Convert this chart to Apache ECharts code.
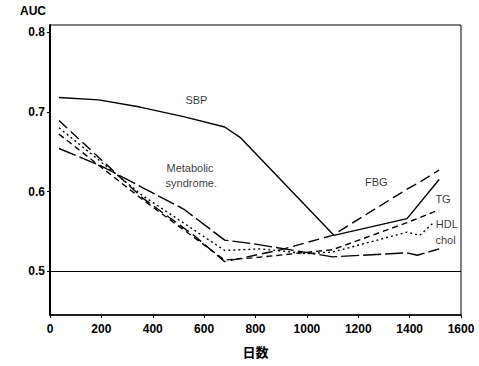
<!DOCTYPE html>
<html>
<head>
<meta charset="utf-8">
<script src="https://cdn.jsdelivr.net/npm/echarts@6/dist/echarts.min.js"></script>
<style>
  html, body { margin: 0; padding: 0; background: #fff; }
  #main { width: 479px; height: 366px; }
</style>
</head>
<body>
<div id="main"></div>
<script>
// 日数ごとのAUC
var xTicks = [0, 200, 400, 600, 800, 1000, 1200, 1400, 1600];
var yTicks = [0.5, 0.6, 0.7, 0.8];

var sbp = [[35, 0.718], [190, 0.715], [350, 0.706], [520, 0.694], [680, 0.681], [740, 0.668], [1105, 0.545], [1390, 0.566], [1515, 0.615]];
var metabolic = [[35, 0.654], [200, 0.632], [360, 0.605], [520, 0.578], [680, 0.539], [800, 0.534], [1100, 0.518], [1390, 0.523], [1430, 0.520], [1515, 0.528]];
var fbg = [[35, 0.689], [360, 0.592], [560, 0.545], [680, 0.512], [740, 0.516], [900, 0.527], [1100, 0.545], [1390, 0.603], [1440, 0.612], [1515, 0.627]];
var tg = [[35, 0.672], [360, 0.59], [680, 0.514], [800, 0.517], [1100, 0.527], [1390, 0.561], [1515, 0.577]];
var hdl = [[35, 0.680], [360, 0.595], [680, 0.526], [820, 0.528], [1000, 0.522], [1100, 0.524], [1390, 0.549], [1440, 0.545], [1490, 0.56]];

// ラベル位置（データ座標）
var labels = [
  { text: 'SBP', at: [570, 0.715] },
  { text: 'Metabolic', at: [545, 0.630] },
  { text: 'syndrome.', at: [550, 0.611] },
  { text: 'FBG', at: [1270, 0.612] },
  { text: 'TG', at: [1530, 0.590] },
  { text: 'HDL', at: [1545, 0.559] },
  { text: 'chol', at: [1540, 0.539] }
];

var font = 'Liberation Sans, Arial, sans-serif';

function line(name, data, dash) {
  return {
    name: name,
    type: 'line',
    data: data,
    symbol: 'none',
    lineStyle: { color: '#000', width: 1.4, type: dash },
    z: 3
  };
}

var chart = echarts.init(document.getElementById('main'), null, { renderer: 'svg' });

var series = [
  line('SBP', sbp, 'solid'),
  line('Metabolic syndrome', metabolic, [18, 4]),
  line('FBG', fbg, [11, 5]),
  line('TG', tg, [6, 4]),
  line('HDL chol', hdl, [2, 3])
];

// 0.5 の基準線
series[0].markLine = {
  silent: true,
  symbol: 'none',
  label: { show: false },
  lineStyle: { color: '#000', width: 1, type: 'solid' },
  data: [{ yAxis: 0.5 }]
};
// 線のラベル
series.push({
  type: 'scatter',
  symbolSize: 0,
  itemStyle: { color: 'transparent' },
  data: labels.map(function (l) { return { value: l.at, name: l.text }; }),
  label: {
    show: true,
    position: 'inside',
    formatter: function (p) { return p.name; },
    color: '#000',
    textBorderWidth: 0,
    fontFamily: font,
    fontSize: 11
  },
  silent: true,
  z: 5
});

chart.setOption({
  animation: false,
  backgroundColor: '#fff',
  grid: { left: 50, right: 18, top: 25, bottom: 51, show: true, borderColor: '#000', borderWidth: 1 },
  xAxis: {
    type: 'value',
    min: 0,
    max: 1600,
    interval: 200,
    name: '日数',
    nameLocation: 'middle',
    nameGap: 30,
    nameTextStyle: { color: '#000', fontFamily: 'Noto Sans CJK JP', fontSize: 13, fontWeight: 'bold' },
    splitLine: { show: false },
    axisLine: { onZero: false, lineStyle: { color: '#000', width: 1.5 } },
    axisTick: { inside: false, length: 3, lineStyle: { color: '#000' } },
    axisLabel: {
      color: '#000', fontFamily: font, fontSize: 12, fontWeight: 'bold', margin: 8,
      formatter: function (v) { return String(v); }
    }
  },
  yAxis: {
    type: 'value',
    min: 0.445,
    max: 0.809,
    name: 'AUC',
    nameLocation: 'end',
    nameGap: 8,
    nameTextStyle: { color: '#000', fontFamily: font, fontSize: 12, fontWeight: 'bold', align: 'right', padding: [0, 4, 0, 0] },
    splitLine: { show: false },
    axisLine: { lineStyle: { color: '#000', width: 2 } },
    axisTick: { length: 3, lineStyle: { color: '#000' }, customValues: yTicks },
    axisLabel: {
      color: '#000', fontFamily: font, fontSize: 12, fontWeight: 'bold', margin: 5,
      customValues: yTicks,
      formatter: function (v) { return v.toFixed(1); }
    }
  },
  series: series
});
</script>
</body>
</html>
